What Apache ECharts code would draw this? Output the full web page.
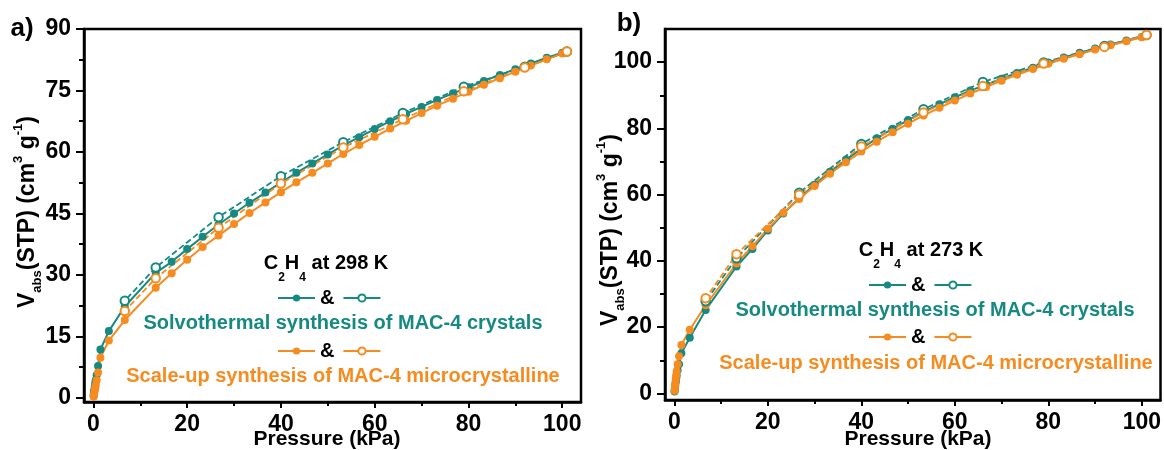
<!DOCTYPE html>
<html>
<head>
<meta charset="utf-8">
<script src="https://cdn.jsdelivr.net/npm/echarts@6/dist/echarts.min.js"></script>
<style>
  html, body { margin: 0; padding: 0; background: #fff; }
  #chart { width: 1164px; height: 450px; }
</style>
</head>
<body>
<div id="chart"></div>
<script>
// C2H4 adsorption isotherms of MAC-4, two temperatures.
// Adsorption branch pressures (kPa)
const pressureAds = [0.05, 0.1, 0.15, 0.2, 0.3, 0.4, 0.5, 0.7, 1.0, 1.5, 3.3, 6.7,
  13.3, 16.7, 20, 23.3, 26.7, 30, 33.3, 36.7, 40, 43.3, 46.7, 50, 53.3, 56.7, 60,
  63.3, 66.7, 70, 73.3, 76.7, 80, 83.3, 86.7, 90, 93.3, 96.7, 100];
// Desorption branch pressures (kPa)
const pressureDes = [101, 92, 79, 66, 53.3, 40, 26.7, 13.3, 6.7];

// 298 K uptake, cm3 g-1
const solvo298Ads = [0.6, 1.0, 1.5, 2.0, 2.8, 3.6, 4.3, 5.6, 7.8, 11.8, 16.3, 22.3,
  30.5, 33.2, 36.3, 39.3, 42.3, 45.0, 47.6, 50.1, 52.5, 54.9, 57.2, 59.4, 61.6, 63.6, 65.6,
  67.5, 69.3, 71.0, 72.7, 74.3, 75.8, 77.3, 78.8, 80.2, 81.6, 83.0, 84.2];
const solvo298Des = [84.5, 80.8, 75.9, 69.5, 62.4, 54.1, 44.1, 31.8, 23.7];
const scale298Ads = [0.3, 0.6, 0.9, 1.3, 1.9, 2.5, 3.1, 4.3, 6.2, 9.8, 14.0, 19.0,
  26.9, 30.4, 33.7, 36.8, 39.6, 42.4, 45.1, 47.7, 50.2, 52.6, 54.9, 57.2, 59.5, 61.7, 63.7,
  65.7, 67.6, 69.5, 71.3, 73.0, 74.7, 76.4, 78.0, 79.6, 81.1, 82.6, 84.0];
const scale298Des = [84.5, 80.6, 74.8, 68.0, 61.1, 52.3, 41.5, 29.2, 21.2];

// 273 K uptake, cm3 g-1
const solvo273Ads = [0.6, 1.2, 1.8, 2.4, 3.4, 4.4, 5.4, 7.0, 8.8, 12.1, 16.8, 25.2,
  38.3, 43.6, 49.2, 54.3, 58.9, 63.0, 66.9, 70.5, 73.9, 77.0, 79.9, 82.5, 85.0, 87.3, 89.4,
  91.4, 93.2, 95.0, 96.7, 98.3, 99.9, 101.4, 102.8, 104.1, 105.3, 106.5, 107.6];
const solvo273Des = [108.2, 104.9, 99.9, 94.0, 85.8, 75.3, 60.6, 40.8, 27.8];
const scale273Ads = [0.8, 1.5, 2.3, 3.0, 4.3, 5.5, 6.7, 8.8, 11.2, 14.6, 19.2, 26.6,
  39.2, 44.4, 49.7, 54.5, 58.7, 62.6, 66.3, 69.8, 73.0, 76.0, 78.8, 81.4, 83.9, 86.2, 88.4,
  90.5, 92.5, 94.4, 96.2, 97.9, 99.5, 101.0, 102.4, 103.8, 105.1, 106.3, 107.5];
const scale273Des = [108.2, 104.6, 99.6, 92.8, 84.8, 74.5, 60.0, 42.0, 28.7];

// Tick labels
const xTicks = [0, 20, 40, 60, 80, 100];
const yTicks298 = [0, 15, 30, 45, 60, 75, 90];
const yTicks273 = [0, 20, 40, 60, 80, 100];

const FONT = '"Liberation Sans", Arial, Helvetica, sans-serif';
const TEAL = '#168a82';
const ORANGE = '#f68b1f';
const BLACK = '#000';

const midpoints = t => t.slice(0, -1).map((v, i) => (v + t[i + 1]) / 2);
const pairs = (xs, ys) => xs.map((x, i) => [x, ys[i]]);

const panels = [
  { left: 84, top: 29, width: 497, height: 373, yMin: -1, yMax: 90, yTicks: yTicks298 },
  { left: 665, top: 29, width: 498, height: 371, yMin: -2, yMax: 110, yTicks: yTicks273 }
];

const grid = panels.map(p => ({
  left: p.left, top: p.top, width: p.width, height: p.height,
  show: true, borderColor: BLACK, borderWidth: 2.5, backgroundColor: 'transparent'
}));

const tickLabel = { fontSize: 23, fontWeight: 'bold', color: BLACK, fontFamily: FONT };

const xAxis = [];
const yAxis = [];
panels.forEach((p, g) => {
  xAxis.push({
    gridIndex: g, type: 'value', min: -2, max: 104, position: 'bottom',
    axisLine: { show: true, onZero: false, lineStyle: { color: BLACK, width: 2.5 } },
    axisTick: { show: true, customValues: xTicks, length: 6, lineStyle: { color: BLACK, width: 2 } },
    axisLabel: Object.assign({ customValues: xTicks, margin: 11 }, tickLabel),
    splitLine: { show: false }
  });
  xAxis.push({
    gridIndex: g, type: 'value', min: -2, max: 104, position: 'bottom',
    axisLine: { show: false, onZero: false },
    axisTick: { show: true, customValues: midpoints(xTicks), length: 4, lineStyle: { color: BLACK, width: 2 } },
    axisLabel: { show: false },
    splitLine: { show: false }
  });
  yAxis.push({
    gridIndex: g, type: 'value', min: p.yMin, max: p.yMax, position: 'left',
    axisLine: { show: true, onZero: false, lineStyle: { color: BLACK, width: 2.5 } },
    axisTick: { show: true, customValues: p.yTicks, length: 8, lineStyle: { color: BLACK, width: 2 } },
    axisLabel: Object.assign({ customValues: p.yTicks, margin: 13 }, tickLabel),
    splitLine: { show: false }
  });
  yAxis.push({
    gridIndex: g, type: 'value', min: p.yMin, max: p.yMax, position: 'left',
    axisLine: { show: false, onZero: false },
    axisTick: { show: true, customValues: midpoints(p.yTicks), length: 5, lineStyle: { color: BLACK, width: 2 } },
    axisLabel: { show: false },
    splitLine: { show: false }
  });
});

function filledSeries(name, g, ys, color) {
  return {
    type: 'line', name, xAxisIndex: 2 * g, yAxisIndex: 2 * g,
    data: pairs(pressureAds, ys),
    symbol: 'circle', symbolSize: 8,
    lineStyle: { color, width: 2 },
    itemStyle: { color },
    emphasis: { disabled: true }
  };
}
function openSeries(name, g, ys, color) {
  return {
    type: 'line', name, xAxisIndex: 2 * g, yAxisIndex: 2 * g,
    data: pairs(pressureDes, ys),
    symbol: 'emptyCircle', symbolSize: 8.5,
    lineStyle: { color, width: 1.8, type: [6, 3] },
    itemStyle: { color, borderColor: color, borderWidth: 1.5 },
    emphasis: { disabled: true }
  };
}

const series = [
  filledSeries('a-solvo-ads', 0, solvo298Ads, TEAL),
  filledSeries('a-scale-ads', 0, scale298Ads, ORANGE),
  openSeries('a-solvo-des', 0, solvo298Des, TEAL),
  openSeries('a-scale-des', 0, scale298Des, ORANGE),
  filledSeries('b-solvo-ads', 1, solvo273Ads, TEAL),
  filledSeries('b-scale-ads', 1, scale273Ads, ORANGE),
  openSeries('b-solvo-des', 1, solvo273Des, TEAL),
  openSeries('b-scale-des', 1, scale273Des, ORANGE)
];

function legendRow(names, left, centerY) {
  return {
    data: names, left, top: centerY - 11, orient: 'horizontal',
    padding: 0, itemWidth: 37, itemHeight: 9, itemGap: 8,
    selectedMode: false,
    lineStyle: { type: 'solid', width: 2 },
    textStyle: { fontSize: 20, fontWeight: 'bold', color: BLACK, fontFamily: FONT },
    formatter: n => (n.endsWith('ads') ? '&' : '')
  };
}

const legend = [
  legendRow(['a-solvo-ads', 'a-solvo-des'], 277, 299),
  legendRow(['a-scale-ads', 'a-scale-des'], 277, 352),
  legendRow(['b-solvo-ads', 'b-solvo-des'], 868, 286),
  legendRow(['b-scale-ads', 'b-scale-des'], 868, 338)
];

function label(text, x, y, color, size) {
  return {
    type: 'text', x, y, silent: true,
    style: { text, fill: color, font: `bold ${size}px ${FONT}`, align: 'center', verticalAlign: 'middle' }
  };
}
function gasTitle(temp, x, y) {
  return {
    type: 'text', x, y, silent: true,
    style: {
      text: `{m|C}{s|2}{m|H}{s|4}{m| at ${temp} K}`,
      align: 'center', verticalAlign: 'middle',
      rich: {
        m: { fontSize: 20, fontWeight: 'bold', fontFamily: FONT, fill: BLACK, lineHeight: 41 },
        s: { fontSize: 12, fontWeight: 'bold', fontFamily: FONT, fill: BLACK, lineHeight: 12, verticalAlign: 'bottom' }
      }
    }
  };
}
function yTitle(x, y) {
  return {
    type: 'text', x, y, rotation: Math.PI / 2, silent: true,
    style: {
      text: '{m|V}{s|abs}{m|(STP) (cm}{u|3}{m| g}{u|-1}{m|)}',
      align: 'center', verticalAlign: 'middle',
      rich: {
        m: { fontSize: 23, fontWeight: 'bold', fontFamily: FONT, fill: BLACK, lineHeight: 32 },
        s: { fontSize: 13, fontWeight: 'bold', fontFamily: FONT, fill: BLACK, lineHeight: 13, verticalAlign: 'bottom' },
        u: { fontSize: 13, fontWeight: 'bold', fontFamily: FONT, fill: BLACK, lineHeight: 13, verticalAlign: 'top' }
      }
    }
  };
}

const graphic = [
  label('a)', 22, 29, BLACK, 26),
  label('b)', 629, 24, BLACK, 26),
  yTitle(28, 212),
  yTitle(611, 230),
  label('Pressure (kPa)', 327, 439, BLACK, 21),
  label('Pressure (kPa)', 918, 439, BLACK, 21),
  gasTitle(298, 326, 263),
  gasTitle(273, 921, 250),
  label('Solvothermal synthesis of MAC-4 crystals', 343, 323, TEAL, 20),
  label('Scale-up synthesis of MAC-4 microcrystalline', 343, 376, ORANGE, 20),
  label('Solvothermal synthesis of MAC-4 crystals', 935, 310, TEAL, 20),
  label('Scale-up synthesis of MAC-4 microcrystalline', 936, 363, ORANGE, 20)
];

const chart = echarts.init(document.getElementById('chart'), null, { renderer: 'canvas' });
chart.setOption({
  backgroundColor: '#fff',
  animation: false,
  grid, xAxis, yAxis, series, legend, graphic
});
</script>
</body>
</html>
